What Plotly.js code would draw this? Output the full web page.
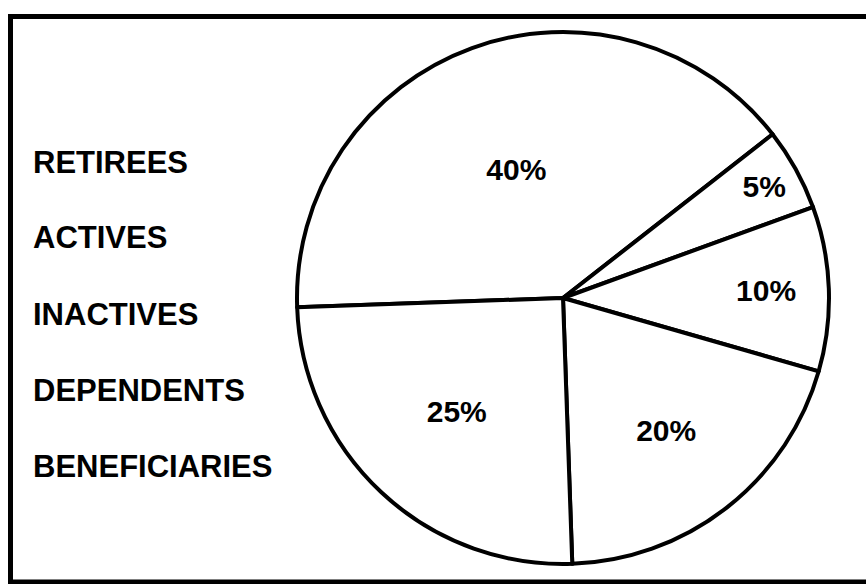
<!DOCTYPE html>
<html>
<head>
<meta charset="utf-8">
<script src="https://cdn.plot.ly/plotly-3.0.1.min.js"></script>
<style>
  html, body { margin: 0; padding: 0; background: #ffffff; }
  #chart { width: 866px; height: 584px; }
</style>
</head>
<body>
<div id="chart"></div>
<script>
// Data
const categories = ["RETIREES", "ACTIVES", "INACTIVES", "DEPENDENTS", "BENEFICIARIES"];
const shares = [40, 5, 10, 20, 25];

const W = 866, H = 584;
const FONT = "Liberation Sans, Arial, Helvetica, sans-serif";

// pie placement (pixels)
const cx = 563, cy = 298, r = 266;

const pie = {
  type: "pie",
  labels: categories,
  values: shares,
  sort: false,
  direction: "clockwise",
  rotation: 268,
  hole: 0,
  domain: {
    x: [(cx - r) / W, (cx + r) / W],
    y: [1 - (cy + r) / H, 1 - (cy - r) / H]
  },
  marker: {
    colors: categories.map(() => "#ffffff"),
    line: { color: "#000000", width: 4 }
  },
  texttemplate: "%{value}%",
  textposition: "inside",
  insidetextorientation: "horizontal",
  textfont: { family: FONT, size: 30, color: "#000000", weight: "bold" },
  showlegend: false,
  hoverinfo: "label+percent"
};

// Category labels listed on the left (no swatches in the reference)
const labelTop = 162, labelStep = 76, labelLeft = 31;
const annotations = categories.map((c, i) => ({
  text: c,
  xref: "paper", yref: "paper",
  x: labelLeft / W,
  y: 1 - (labelTop + i * labelStep) / H,
  xanchor: "left", yanchor: "middle",
  showarrow: false,
  font: { family: FONT, size: 31, color: "#000000", weight: "bold" }
}));

const layout = {
  width: W, height: H,
  margin: { l: 0, r: 0, t: 0, b: 0 },
  paper_bgcolor: "#ffffff",
  plot_bgcolor: "#ffffff",
  showlegend: false,
  annotations: annotations,
  shapes: [{
    type: "rect", xref: "paper", yref: "paper",
    x0: 10.5 / W, x1: 1.02,
    y0: 1 - 582 / H, y1: 1 - 16.5 / H,
    line: { color: "#000000", width: 5 },
    fillcolor: "rgba(0,0,0,0)",
    layer: "above"
  }]
};

Plotly.newPlot("chart", [pie], layout, { displayModeBar: false, staticPlot: true });
</script>
</body>
</html>
